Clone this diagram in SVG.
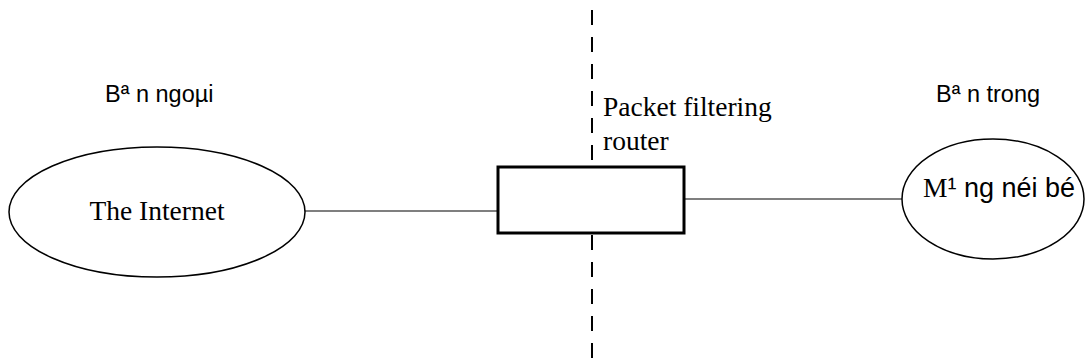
<svg xmlns="http://www.w3.org/2000/svg" width="1085" height="362" viewBox="0 0 1085 362">
  <style>
    .shape { fill: #ffffff; stroke: #000000; stroke-width: 1.5; }
    .router { fill: #ffffff; stroke: #000000; stroke-width: 3; }
    .link { stroke: #000000; stroke-width: 1.2; fill: none; }
    .boundary { stroke: #000000; stroke-width: 2; stroke-dasharray: 15 12; fill: none; }
    .serif { font-family: "Liberation Serif", "Times New Roman", serif; font-size: 27.5px; fill: #000000; }
    .sans { font-family: "Liberation Sans", Arial, sans-serif; font-size: 23.5px; fill: #000000; }
    .sans-lg { font-family: "Liberation Sans", Arial, sans-serif; font-size: 27px; fill: #000000; }
  </style>
  <rect width="1085" height="362" fill="#ffffff"/>

  <!-- dashed boundary between outside and inside, split by the router -->
  <line class="boundary" x1="592" y1="10" x2="592" y2="166"/>
  <line class="boundary" x1="592" y1="235" x2="592" y2="362"/>

  <!-- links -->
  <g id="connectors">
    <line class="link" x1="305" y1="211" x2="498" y2="211"/>
    <line class="link" x1="684" y1="199" x2="902" y2="199"/>
  </g>

  <!-- side labels -->
  <g id="label-outside">
    <text class="sans" x="105" y="102">Bª n ngoµi</text>
  </g>
  <g id="label-inside">
    <text class="sans" x="936" y="102">Bª n trong</text>
  </g>

  <g id="internet">
    <ellipse class="shape" cx="157" cy="212" rx="148" ry="65"/>
    <text class="serif" x="157" y="220" text-anchor="middle">The Internet</text>
  </g>

  <g id="router">
    <rect class="router" x="498" y="167" width="186" height="66"/>
    <text class="serif" x="603" y="116">Packet filtering</text>
    <text class="serif" x="603" y="150">router</text>
  </g>

  <g id="lan">
    <ellipse class="shape" cx="993" cy="199" rx="91" ry="60"/>
    <text x="923" y="197"><tspan class="serif">M</tspan><tspan class="sans-lg">¹ ng néi bé</tspan></text>
  </g>
</svg>
